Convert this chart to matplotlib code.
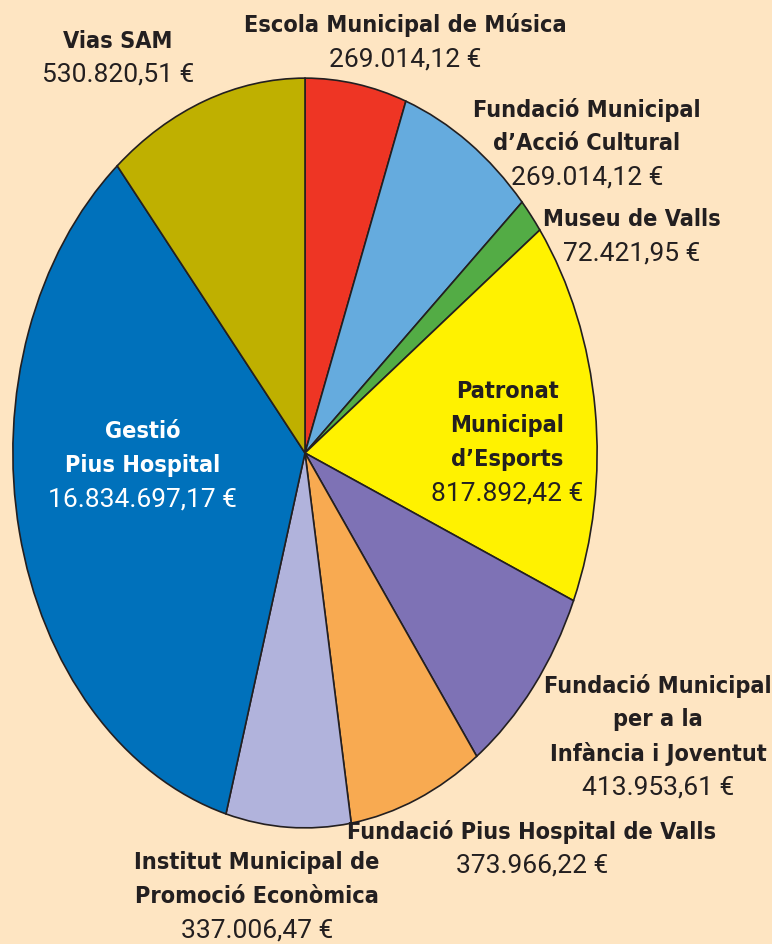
import numpy as np
import matplotlib.pyplot as plt
from matplotlib import font_manager
from matplotlib.font_manager import FontProperties

# slices, clockwise from 12 o'clock
names = ['Escola Municipal de Música',
         'Fundació Municipal\nd\u2019Acció Cultural',
         'Museu de Valls',
         'Patronat\nMunicipal\nd\u2019Esports',
         'Fundació Municipal\nper a la\nInfància i Joventut',
         'Fundació Pius Hospital de Valls',
         'Institut Municipal de\nPromoció Econòmica',
         'Gestió\nPius Hospital',
         'Vias SAM']
values = ['269.014,12 €', '269.014,12 €', '72.421,95 €', '817.892,42 €',
          '413.953,61 €', '373.966,22 €', '337.006,47 €', '16.834.697,17 €',
          '530.820,51 €']
# slice sizes as drawn in the picture (degrees), not proportional to the amounts
shares = [20.2, 27.8, 5.5, 59.7, 30.8, 26.9, 24.8, 124.3, 40.0]
colors = ['#EE3524', '#65ABDE', '#53AC45', '#FFF200', '#7E72B5',
          '#F8AA51', '#B1B3DC', '#0071BB', '#BFB000']

W, H = 772, 945
bg = '#FEE5C2'
ink = '#231F20'

# look for a condensed bold face on the system
cond = None
for f in font_manager.fontManager.ttflist:
    fn = f.fname.lower()
    if ('narrow' in fn or 'condensed' in fn) and 'bold' in fn and 'oblique' not in fn \
            and 'italic' not in fn:
        cond = f.fname
        break
if cond:
    bold_fp = FontProperties(fname=cond, size=16.8)
else:
    bold_fp = FontProperties(family='Roboto', weight='bold', size=15)

val_fp = FontProperties(family='Roboto', weight='normal', size=19)

fig = plt.figure(figsize=(W / 100, H / 100), dpi=100, facecolor=bg)
# ellipse box in pixels: x 12..598, y 78..830 (from top)
ax = fig.add_axes([12 / W, 1 - 830 / H, 586 / W, 752 / H])
ax.set_facecolor(bg)
ax.pie(shares, colors=colors, startangle=90, counterclock=False,
       wedgeprops=dict(edgecolor=ink, linewidth=1.2))
ax.set_aspect('auto')
ax.set_xlim(-1.003, 1.003)
ax.set_ylim(-1.003, 1.003)
ax.axis('off')

# label positions in pixels: (center x, y of first line), colour
pos = [(405, 25, ink), (587, 110, ink), (632, 220, ink), (507, 392, ink),
       (658, 686, ink), (532, 832, ink), (257, 863, ink), (143, 432, 'white'),
       (118, 41, ink)]
step = 34

for name, val, (x, y, c) in zip(names, values, pos):
    lines = name.split('\n')
    for i, ln in enumerate(lines):
        fig.text(x / W, 1 - (y + i * step) / H, ln, ha='center', va='center',
                 fontproperties=bold_fp, color=c)
    fig.text(x / W, 1 - (y + len(lines) * step) / H, val, ha='center', va='center',
             fontproperties=val_fp, color=c)

fig.savefig('out.png', dpi=100, facecolor=bg)
